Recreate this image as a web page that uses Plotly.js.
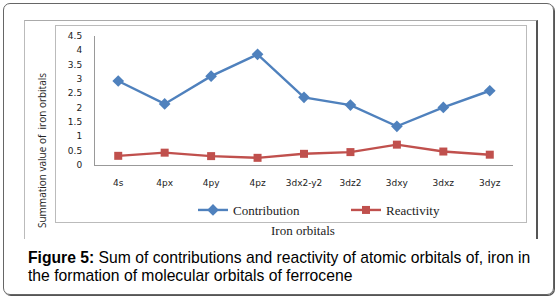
<!DOCTYPE html>
<html>
<head>
<meta charset="utf-8">
<script src="https://cdn.plot.ly/plotly-3.0.1.min.js"></script>
<style>
  html, body { margin: 0; padding: 0; background: #fff; }
  #wrap { position: relative; width: 560px; height: 301px; overflow: hidden; }
  .box { position: absolute; box-sizing: border-box; }
  #outer { left: 3px; top: 3px; width: 551px; height: 292px; border: 1px solid #666; border-radius: 7px; box-shadow: 1px 1px 0 #555; }
  #chartarea { left: 24px; top: 20px; width: 514px; height: 219px; border-top: 1px solid #aaa; border-left: 1px solid #bbb; border-right: 2px solid #555; }
  #plotarea { left: 55px; top: 25px; width: 472px; height: 198px; border: 1px solid #bbb; }
  #plot { position: absolute; left: 0; top: 0; width: 560px; height: 301px; }
</style>
</head>
<body>
<div id="wrap">
  <div class="box" id="outer"></div>
  <div class="box" id="chartarea"></div>
  <div class="box" id="plotarea"></div>
  <div id="plot"></div>
</div>
<script>
const categories = ["4s", "4px", "4py", "4pz", "3dx2-y2", "3dz2", "3dxy", "3dxz", "3dyz"];
const contribution = [2.93, 2.13, 3.10, 3.86, 2.36, 2.09, 1.35, 2.01, 2.59];
const reactivity = [0.32, 0.43, 0.31, 0.25, 0.39, 0.45, 0.71, 0.47, 0.36];
const yTicks = [0, 0.5, 1, 1.5, 2, 2.5, 3, 3.5, 4, 4.5];

// pixel -> paper helpers (plot area: x 95..513, y 36..165)
const L = 95, R = 513, T = 36, B = 165;
const px = x => (x - L) / (R - L);
const py = y => (B - y) / (B - T);

const traces = [
  {
    x: categories, y: contribution, name: "Contribution", type: "scatter", mode: "lines+markers",
    line: { color: "#4F81BD", width: 2.4 },
    marker: { symbol: "diamond", size: 9, color: "#4F81BD" }
  },
  {
    x: categories, y: reactivity, name: "Reactivity", type: "scatter", mode: "lines+markers",
    line: { color: "#C0504D", width: 2.4 },
    marker: { symbol: "square", size: 8, color: "#C0504D" }
  }
];

const layout = {
  width: 560, height: 301,
  margin: { l: L, r: 560 - R, t: T, b: 301 - B, pad: 0 },
  paper_bgcolor: "rgba(0,0,0,0)",
  plot_bgcolor: "rgba(0,0,0,0)",
  showlegend: true,
  legend: {
    orientation: "h", x: px(193), y: py(210), xanchor: "left", yanchor: "middle",
    font: { family: "Liberation Serif, serif", size: 13, color: "#222" },
    entrywidth: 108, entrywidthmode: "pixels", itemwidth: 30,
    bgcolor: "rgba(0,0,0,0)"
  },
  xaxis: {
    type: "category", range: [-0.5, 8.5], showgrid: false, zeroline: false,
    showline: true, linecolor: "#999", linewidth: 1,
    ticks: "outside", ticklen: 9, tickcolor: "rgba(0,0,0,0)",
    tickfont: { family: "DejaVu Sans, sans-serif", size: 9, color: "#222" },
    fixedrange: true
  },
  yaxis: {
    range: [0, 4.5], tickvals: yTicks, ticktext: yTicks.map(String),
    showgrid: false, zeroline: false, showline: true, linecolor: "#999", linewidth: 1,
    ticks: "outside", ticklen: 10, tickcolor: "rgba(0,0,0,0)",
    tickfont: { family: "DejaVu Sans, sans-serif", size: 9, color: "#222" },
    fixedrange: true
  },
  annotations: [
    {
      text: "Summation value of  iron orbitals", textangle: -90,
      xref: "paper", yref: "paper", x: px(42), y: py(151), xanchor: "center", yanchor: "middle",
      showarrow: false, font: { family: "Open Sans, Liberation Sans, sans-serif", size: 10, color: "#222" }
    },
    {
      text: "Iron orbitals",
      xref: "paper", yref: "paper", x: px(303), y: py(230), xanchor: "center", yanchor: "middle",
      showarrow: false, font: { family: "Liberation Serif, serif", size: 13, color: "#222" }
    },
    {
      text: "<b>Figure 5:</b> Sum of contributions and reactivity of atomic orbitals of, iron in",
      xref: "paper", yref: "paper", x: px(26), y: py(257), xanchor: "left", yanchor: "middle", align: "left",
      showarrow: false, font: { family: "Liberation Sans, Arial, sans-serif", size: 15.7, color: "#000" }
    },
    {
      text: "the formation of molecular orbitals of ferrocene",
      xref: "paper", yref: "paper", x: px(26), y: py(275), xanchor: "left", yanchor: "middle", align: "left",
      showarrow: false, font: { family: "Liberation Sans, Arial, sans-serif", size: 15.7, color: "#000" }
    }
  ]
};

Plotly.newPlot("plot", traces, layout, { displayModeBar: false, staticPlot: true });
</script>
</body>
</html>
